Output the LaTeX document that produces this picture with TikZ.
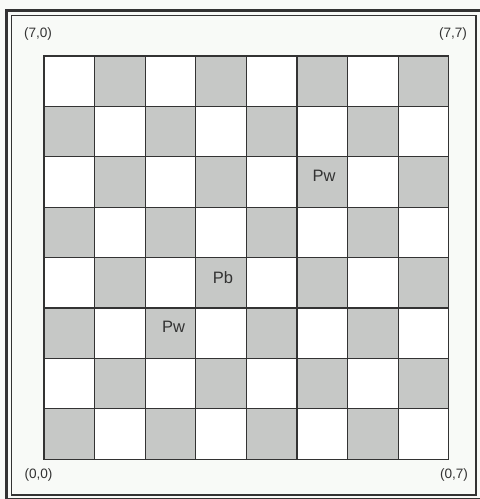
\documentclass[tikz,border=0pt]{standalone}
\usepackage{fontspec}
\setmainfont{Liberation Sans}
\definecolor{ink}{HTML}{333333}
\definecolor{shade}{HTML}{C6C8C6}
\definecolor{paper}{HTML}{F8FAF7}
\begin{document}
\begin{tikzpicture}[x=1pt,y=-1pt,
  sq/.style={draw=ink, line width=1.3pt},
  dark/.style={sq, fill=shade},
  light/.style={sq, fill=white},
  corner/.style={font=\fontsize{13.6}{14}\selectfont, text=ink, inner sep=0pt},
  piece/.style={font=\fontsize{16.5}{17}\selectfont, text=ink, inner sep=0pt}]
\useasboundingbox (0,0) rectangle (480,499);
\fill[paper] (0,0) rectangle (480,499);
\draw[ink, line width=3pt] (6,10.5) rectangle (481.5,499.5);
\draw[ink, line width=1.2pt] (11.5,15.5) rectangle (476,495);
\foreach \r in {0,...,7}{
  \foreach \c in {0,...,7}{
    \pgfmathtruncatemacro{\s}{mod(\r+\c,2)}
    \ifnum\s=1
      \draw[dark] (44+\c*50.6,56+\r*50.4) rectangle ++(50.6,50.4);
    \else
      \draw[light] (44+\c*50.6,56+\r*50.4) rectangle ++(50.6,50.4);
    \fi
  }
}
\node[corner] (tl) at (38,34) {(7,0)};
\node[corner] (tr) at (453,34) {(7,7)};
\node[corner] (bl) at (38.5,475) {(0,0)};
\node[corner] (br) at (454,475) {(0,7)};
\node[piece] (pw1) at (324,176) {Pw};
\node[piece] (pb) at (223,277.5) {Pb};
\node[piece] (pw2) at (173.5,327) {Pw};
\end{tikzpicture}
\end{document}
